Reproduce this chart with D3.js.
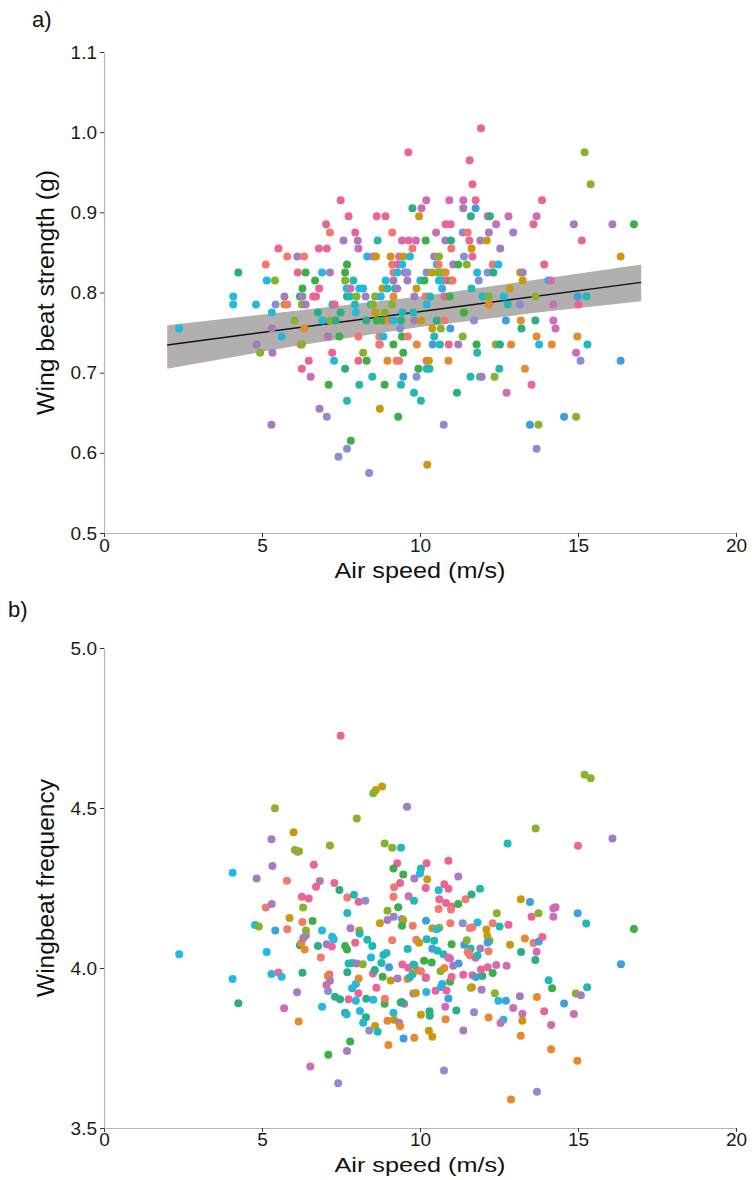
<!DOCTYPE html>
<html>
<head>
<meta charset="utf-8">
<script src="https://cdn.jsdelivr.net/npm/d3@7"></script>
<style>
  html, body { margin: 0; padding: 0; background: #fff; }
  svg { display: block; }
  text { font-family: "Liberation Sans", Arial, sans-serif; }
</style>
</head>
<body>
<div id="chart"></div>
<script>
// ---------------- data ----------------
const xTicks = [0, 5, 10, 15, 20];
const yTicksA = [0.5, 0.6, 0.7, 0.8, 0.9, 1.0, 1.1];
const yTicksB = [3.5, 4.0, 4.5, 5.0];
const panelLabels = ["a)", "b)"];
const xTitle = "Air speed (m/s)";
const yTitleA = "Wing beat strength (g)";
const yTitleB = "Wingbeat frequency";

// individuals (groups) and their colours
const groups = ["r","o","g","l","G","t","c","b","u","v","p","m","k"];
const groupColors = ["#EF7A6E","#E58A2E","#C99A0E","#86B32B","#3DAF48","#2BAE84","#22B9B3",
                     "#22B8E0","#3D9FE0","#8A8FD0","#A67CC0","#CC6DB6","#EB6496"];

// fitted regression (panel a) and its confidence band
const fitX = [2, 17];
const fitY = [0.7345, 0.8127];
const ciX = [2, 6, 10, 13.5, 17];
const ciLow = [0.705, 0.733, 0.757, 0.774, 0.789];
const ciHigh = [0.759, 0.777, 0.795, 0.815, 0.835];

// panel a: [air speed, wing beat strength, individual]
const pointsA = [
[7.49,0.915,"k"],[7.74,0.895,"k"],[8.63,0.895,"k"],[7.03,0.885,"k"],[7.15,0.875,"r"],[7.95,0.875,"k"],
[7.58,0.865,"p"],[8.03,0.865,"p"],[8.66,0.865,"c"],[5.52,0.855,"k"],[6.80,0.855,"k"],[7.05,0.855,"k"],[8.05,0.855,"m"],
[5.80,0.845,"r"],[6.12,0.845,"p"],[6.33,0.845,"r"],[8.33,0.845,"b"],[8.52,0.845,"m"],[8.61,0.845,"g"],
[5.12,0.835,"r"],[7.69,0.835,"G"],
[4.25,0.825,"t"],[6.13,0.825,"k"],[6.38,0.825,"G"],[6.90,0.825,"b"],[7.15,0.825,"p"],[7.63,0.825,"G"],
[5.15,0.815,"b"],[5.41,0.815,"l"],[6.68,0.815,"G"],[7.63,0.815,"l"],[7.89,0.815,"c"],
[6.28,0.805,"G"],[6.81,0.805,"k"],[7.68,0.805,"b"],[7.80,0.805,"m"],[8.08,0.805,"b"],[8.20,0.805,"b"],
[4.09,0.795,"b"],[5.71,0.795,"p"],[6.20,0.795,"t"],[6.28,0.795,"p"],[6.62,0.795,"k"],[6.71,0.795,"k"],[7.69,0.795,"t"],[7.78,0.795,"c"],[7.99,0.795,"l"],[8.28,0.795,"p"],[8.58,0.795,"l"],
[4.09,0.785,"b"],[4.81,0.785,"b"],[5.43,0.785,"v"],[5.71,0.785,"g"],[5.80,0.785,"r"],[6.26,0.785,"l"],[6.38,0.785,"p"],[7.23,0.785,"c"],[7.30,0.785,"k"],[7.94,0.785,"c"],[8.44,0.785,"b"],[8.50,0.785,"l"],
[5.31,0.775,"b"],[6.77,0.775,"t"],[7.49,0.775,"t"],[7.97,0.775,"b"],[8.59,0.775,"g"],
[6.03,0.765,"l"],[6.91,0.765,"b"],[7.15,0.765,"l"],[7.33,0.765,"t"],[8.30,0.765,"t"],[8.63,0.765,"G"],
[11.93,1.005,"k"],[9.63,0.975,"k"],[15.21,0.975,"l"],[11.57,0.965,"k"],[11.66,0.935,"k"],[15.40,0.935,"l"],
[10.20,0.915,"m"],[10.93,0.915,"m"],[11.37,0.915,"m"],[11.76,0.915,"k"],[13.86,0.915,"k"],
[9.76,0.905,"t"],[10.05,0.905,"m"],[11.37,0.905,"p"],[11.76,0.905,"u"],
[8.91,0.895,"k"],[9.97,0.895,"g"],[11.61,0.895,"t"],[12.14,0.895,"k"],[12.21,0.895,"t"],[12.80,0.895,"m"],[13.69,0.895,"m"],
[10.81,0.885,"k"],[10.97,0.885,"k"],[12.41,0.885,"m"],[13.59,0.885,"k"],[14.87,0.885,"p"],[16.09,0.885,"p"],[16.77,0.885,"G"],
[9.12,0.875,"r"],[10.51,0.875,"m"],[11.35,0.875,"v"],[11.51,0.875,"r"],[12.18,0.875,"p"],[12.95,0.875,"p"],
[9.43,0.865,"m"],[9.64,0.865,"k"],[9.87,0.865,"m"],[10.18,0.865,"G"],[10.80,0.865,"p"],[10.98,0.865,"t"],[11.56,0.865,"k"],[11.91,0.865,"p"],[12.11,0.865,"g"],[15.12,0.865,"k"],
[9.76,0.855,"r"],[10.99,0.855,"r"],[11.63,0.855,"g"],[12.54,0.855,"p"],
[9.07,0.845,"g"],[9.34,0.845,"k"],[9.47,0.845,"g"],[9.68,0.845,"b"],[10.45,0.845,"p"],[10.60,0.845,"l"],[11.39,0.845,"v"],[11.66,0.845,"k"],[16.35,0.845,"g"],
[9.12,0.835,"r"],[9.31,0.835,"k"],[9.44,0.835,"b"],[10.53,0.835,"b"],[10.59,0.835,"r"],[11.05,0.835,"p"],[11.21,0.835,"G"],[11.48,0.835,"l"],[12.30,0.835,"r"],[12.48,0.835,"b"],[13.93,0.835,"k"],
[9.16,0.825,"r"],[9.28,0.825,"b"],[9.52,0.825,"p"],[9.60,0.825,"v"],[10.21,0.825,"v"],[10.38,0.825,"g"],[10.58,0.825,"l"],[10.66,0.825,"l"],[10.74,0.825,"l"],[10.81,0.825,"o"],[11.81,0.825,"b"],[12.14,0.825,"v"],[12.32,0.825,"t"],[13.17,0.825,"g"],[13.25,0.825,"p"],
[8.91,0.815,"b"],[9.16,0.815,"p"],[9.60,0.815,"p"],[10.01,0.815,"b"],[10.14,0.815,"G"],[10.60,0.815,"b"],[10.69,0.815,"b"],[10.84,0.815,"k"],[10.98,0.815,"G"],[11.03,0.815,"r"],[11.86,0.815,"v"],[13.25,0.815,"g"],[14.06,0.815,"b"],[14.14,0.815,"m"],
[8.81,0.805,"g"],[8.97,0.805,"c"],[9.21,0.805,"c"],[9.28,0.805,"p"],[9.89,0.805,"g"],[10.70,0.805,"b"],[11.63,0.805,"c"],[12.84,0.805,"g"],
[8.76,0.795,"b"],[9.16,0.795,"o"],[9.82,0.795,"p"],[10.18,0.795,"r"],[10.32,0.795,"c"],[10.77,0.795,"k"],[10.94,0.795,"G"],[11.98,0.795,"c"],[12.13,0.795,"b"],[12.18,0.795,"l"],[12.65,0.795,"b"],[13.66,0.795,"l"],[14.99,0.795,"u"],[15.27,0.795,"c"],
[2.38,0.755,"b"],[5.31,0.755,"p"],[6.34,0.755,"o"],
[5.62,0.745,"b"],[7.07,0.745,"r"],[7.10,0.745,"p"],[7.45,0.745,"G"],[8.05,0.745,"r"],[8.71,0.745,"r"],
[4.83,0.735,"p"],[6.22,0.735,"r"],[6.26,0.735,"l"],[8.71,0.735,"r"],
[4.94,0.725,"l"],[5.33,0.725,"p"],[7.22,0.725,"k"],[8.20,0.725,"l"],
[6.48,0.715,"k"],[7.28,0.715,"b"],[8.05,0.715,"k"],[8.31,0.715,"G"],
[6.26,0.705,"k"],[7.63,0.705,"t"],[6.54,0.695,"m"],[8.49,0.695,"c"],[7.11,0.685,"G"],[8.08,0.685,"c"],
[7.69,0.665,"c"],[6.82,0.655,"p"],[7.05,0.645,"v"],[5.30,0.635,"p"],[7.81,0.615,"G"],[7.69,0.605,"v"],[7.42,0.595,"v"],[8.39,0.575,"v"],
[9.12,0.785,"l"],[10.21,0.785,"b"],[12.18,0.785,"o"],[12.78,0.785,"c"],[13.16,0.785,"v"],[14.22,0.785,"m"],[15.01,0.785,"k"],
[8.88,0.775,"l"],[9.44,0.775,"c"],[9.79,0.775,"c"],[11.39,0.775,"G"],
[8.81,0.765,"G"],[9.00,0.765,"o"],[9.16,0.765,"b"],[9.40,0.765,"t"],[9.82,0.765,"p"],[10.03,0.765,"g"],[10.53,0.765,"t"],[10.77,0.765,"r"],[11.71,0.765,"v"],[12.72,0.765,"u"],[13.19,0.765,"o"],[13.65,0.765,"t"],[14.22,0.765,"m"],
[9.37,0.755,"v"],[10.39,0.755,"g"],[10.66,0.755,"l"],[10.96,0.755,"u"],[13.21,0.755,"t"],[14.29,0.755,"m"],
[8.84,0.745,"b"],[9.43,0.745,"G"],[9.61,0.745,"r"],[10.45,0.745,"c"],[11.35,0.745,"l"],[13.69,0.745,"o"],[14.98,0.745,"o"],
[8.73,0.735,"r"],[9.16,0.735,"G"],[9.90,0.735,"o"],[10.40,0.735,"u"],[10.63,0.735,"c"],[10.91,0.735,"k"],[11.21,0.735,"p"],[11.79,0.735,"G"],[12.40,0.735,"l"],[12.53,0.735,"t"],[12.88,0.735,"o"],[13.77,0.735,"b"],[14.17,0.735,"o"],[15.30,0.735,"c"],
[9.47,0.725,"G"],[11.81,0.725,"c"],[14.94,0.725,"m"],
[8.97,0.715,"o"],[9.26,0.715,"r"],[9.34,0.715,"r"],[10.21,0.715,"k"],[10.28,0.715,"g"],[10.90,0.715,"o"],[15.08,0.715,"v"],[16.35,0.715,"u"],
[9.95,0.705,"G"],[10.21,0.705,"c"],[10.30,0.705,"c"],[12.51,0.705,"c"],[13.32,0.705,"o"],
[9.47,0.695,"u"],[9.89,0.695,"v"],[11.60,0.695,"c"],[11.90,0.695,"c"],[11.95,0.695,"p"],[12.36,0.695,"l"],
[8.88,0.685,"G"],[9.40,0.685,"c"],[13.53,0.685,"k"],
[9.81,0.675,"c"],[11.17,0.675,"t"],[12.74,0.675,"m"],[10.03,0.665,"c"],[8.73,0.655,"g"],
[9.31,0.645,"G"],[14.56,0.645,"u"],[14.94,0.645,"l"],[10.75,0.635,"v"],[13.48,0.635,"u"],[13.75,0.635,"l"],
[13.69,0.605,"v"],[10.23,0.585,"g"]
];

// panel b: [air speed, wingbeat frequency, individual]
const pointsB = [
[7.49,4.726,"k"],[8.60,4.556,"g"],[8.52,4.546,"l"],[5.41,4.499,"l"],[8.00,4.467,"l"],[6.00,4.424,"g"],[5.30,4.402,"p"],
[7.15,4.383,"l"],[6.04,4.369,"l"],[6.13,4.363,"k"],[6.17,4.365,"l"],[4.07,4.298,"b"],[5.33,4.319,"p"],[4.83,4.280,"p"],
[5.79,4.273,"r"],[6.64,4.323,"k"],[6.83,4.272,"p"],[6.71,4.254,"k"],[7.29,4.266,"k"],[7.45,4.244,"t"],[6.26,4.223,"k"],
[6.48,4.217,"k"],[7.70,4.220,"r"],[7.91,4.229,"c"],[8.06,4.207,"k"],[8.27,4.210,"v"],[5.12,4.189,"r"],[5.31,4.200,"p"],
[6.30,4.189,"l"],[7.70,4.172,"c"],[5.87,4.156,"g"],[6.28,4.144,"r"],[6.60,4.147,"G"],[4.78,4.134,"b"],[4.90,4.130,"l"],
[8.80,4.567,"g"],[9.59,4.504,"p"],[8.88,4.389,"l"],[9.12,4.376,"l"],[9.40,4.376,"c"],[12.77,4.389,"c"],[13.66,4.436,"l"],
[15.00,4.382,"k"],[16.09,4.405,"p"],[15.21,4.604,"l"],[15.40,4.593,"l"],[9.28,4.327,"k"],[9.16,4.311,"G"],[9.47,4.292,"G"],
[9.82,4.280,"p"],[10.03,4.311,"c"],[10.00,4.295,"b"],[10.21,4.327,"k"],[10.23,4.277,"g"],[9.37,4.266,"k"],[9.18,4.252,"r"],
[9.16,4.223,"r"],[9.64,4.224,"m"],[9.81,4.210,"c"],[10.18,4.250,"k"],[10.59,4.243,"b"],[10.77,4.262,"k"],[10.90,4.248,"k"],
[11.21,4.286,"p"],[10.90,4.335,"k"],[10.61,4.215,"k"],[10.82,4.203,"k"],[11.00,4.192,"k"],[10.98,4.183,"r"],[11.21,4.200,"G"],
[11.44,4.215,"r"],[11.63,4.230,"t"],[11.90,4.248,"c"],[10.59,4.184,"r"],[8.97,4.179,"l"],[9.31,4.190,"G"],[9.17,4.160,"p"],
[8.97,4.150,"p"],[8.73,4.140,"g"],[9.43,4.153,"b"],[9.47,4.149,"g"],[9.77,4.132,"r"],[9.43,4.132,"G"],[10.19,4.148,"u"],
[10.61,4.126,"l"],[10.39,4.124,"g"],[10.53,4.121,"b"],[10.96,4.140,"r"],[11.35,4.140,"v"],[11.82,4.142,"b"],[11.58,4.125,"r"],
[11.66,4.127,"r"],[12.10,4.120,"g"],[12.30,4.140,"r"],[12.52,4.130,"c"],[12.80,4.135,"k"],[12.43,4.171,"l"],[13.19,4.215,"g"],
[13.48,4.206,"u"],[13.53,4.160,"k"],[13.75,4.171,"l"],[14.22,4.187,"m"],[14.29,4.190,"m"],[14.22,4.160,"m"],[14.99,4.171,"u"],
[15.26,4.139,"c"],[16.77,4.122,"G"],
[2.38,4.043,"b"],[4.07,3.966,"b"],[4.25,3.890,"t"],[5.42,4.117,"u"],[5.80,4.121,"r"],[5.15,4.050,"b"],[5.30,3.981,"b"],
[5.52,3.986,"k"],[5.62,3.973,"b"],[5.70,3.874,"m"],[6.11,3.924,"p"],[6.16,3.833,"o"],[6.28,3.985,"t"],[6.20,4.071,"G"],
[6.25,4.079,"o"],[6.35,4.058,"o"],[6.31,4.094,"p"],[6.39,4.102,"p"],[6.39,4.117,"l"],[6.77,4.069,"t"],[6.86,4.033,"r"],
[6.90,4.117,"b"],[7.05,4.074,"p"],[7.22,4.098,"b"],[7.27,4.090,"b"],[7.21,4.067,"k"],[7.04,3.947,"k"],[7.13,3.980,"k"],
[7.08,3.975,"o"],[7.15,3.960,"p"],[7.09,3.928,"v"],[6.90,3.879,"b"],[6.53,3.692,"m"],[7.10,3.729,"G"],[7.31,3.910,"t"],
[7.47,3.902,"t"],[7.41,3.640,"v"],[7.69,3.741,"p"],[7.79,3.770,"G"],[7.63,3.860,"t"],[7.68,3.855,"b"],[7.63,4.069,"G"],
[7.69,4.058,"G"],[7.80,4.124,"p"],[7.95,4.079,"k"],[7.74,4.014,"c"],[7.86,4.016,"c"],[8.00,4.014,"p"],[8.19,4.012,"l"],
[7.70,3.987,"t"],[7.85,3.937,"b"],[7.97,3.950,"b"],[8.06,3.967,"o"],[8.05,3.921,"k"],[7.74,3.902,"k"],[7.97,3.898,"b"],
[8.10,3.866,"b"],[8.30,3.904,"t"],[8.29,3.846,"t"],[8.20,3.829,"b"],[8.39,3.805,"v"],[8.58,3.819,"g"],[8.66,3.801,"c"],
[8.52,3.901,"b"],[8.62,3.938,"k"],[8.45,4.033,"b"],[8.51,3.983,"k"],[8.57,3.994,"t"],[8.33,4.088,"c"],[8.49,4.069,"c"],
[8.08,4.117,"g"],[8.09,4.108,"c"],
[9.12,4.087,"r"],[8.84,4.041,"c"],[8.94,4.047,"c"],[8.78,4.016,"c"],[9.02,4.002,"u"],[8.82,3.973,"G"],[9.07,3.961,"g"],
[9.29,3.967,"p"],[9.60,3.966,"o"],[9.68,3.971,"c"],[9.77,3.981,"c"],[9.61,4.059,"c"],[9.79,4.011,"c"],[9.90,3.994,"g"],
[10.03,3.990,"r"],[10.18,3.969,"c"],[10.19,3.970,"k"],[9.88,4.088,"r"],[9.97,4.079,"g"],[10.21,4.090,"c"],[10.45,4.085,"c"],
[10.39,4.060,"u"],[10.55,4.054,"c"],[10.74,4.043,"c"],[10.13,4.023,"G"],[10.37,4.017,"G"],[9.44,4.011,"k"],[9.63,4.001,"k"],
[9.82,4.009,"c"],[9.79,3.920,"p"],[9.87,3.922,"g"],[10.20,3.925,"b"],[10.49,3.929,"k"],[10.66,3.941,"b"],[10.70,3.950,"b"],
[10.84,3.930,"k"],[10.95,3.957,"G"],[11.00,3.972,"k"],[10.65,3.990,"l"],[10.77,4.000,"o"],[10.89,4.033,"k"],[10.95,4.030,"m"],
[11.00,4.074,"G"],[11.22,4.014,"u"],[11.05,4.007,"p"],[11.40,4.073,"u"],[11.48,4.087,"l"],[11.60,4.061,"c"],[11.51,4.050,"r"],
[11.58,4.040,"r"],[11.91,4.061,"p"],[12.13,4.100,"g"],[12.20,4.085,"l"],[12.14,4.080,"u"],[12.17,4.052,"r"],[11.76,4.032,"k"],
[11.82,4.039,"c"],[11.37,3.979,"k"],[11.66,3.977,"k"],[11.77,3.972,"u"],[11.97,3.975,"t"],[11.93,3.995,"k"],[12.14,4.002,"k"],
[12.30,3.984,"G"],[12.41,4.009,"m"],[12.74,4.007,"m"],[11.61,3.938,"l"],[11.64,3.940,"g"],[11.95,3.932,"p"],[12.37,3.921,"l"],
[12.48,3.898,"b"],[12.72,3.898,"u"],[13.16,3.912,"p"],[13.70,3.909,"o"],[14.07,3.962,"c"],[14.18,3.937,"G"],[14.56,3.889,"u"],
[14.93,3.920,"l"],[15.09,3.915,"p"],[15.29,3.940,"c"],[16.36,4.012,"u"],[13.20,4.050,"t"],[13.65,4.025,"t"],[13.69,4.051,"m"],
[13.59,4.078,"r"],[13.76,4.083,"u"],[13.87,4.097,"k"],[13.32,4.092,"o"],[12.85,4.073,"g"],
[9.16,3.860,"b"],[8.97,3.835,"o"],[9.18,3.838,"g"],[9.34,3.829,"p"],[9.37,3.818,"o"],[9.48,3.780,"u"],[9.82,3.782,"o"],
[9.00,3.759,"o"],[9.39,3.892,"G"],[9.50,3.888,"p"],[8.88,3.888,"G"],[8.89,3.904,"r"],[9.42,3.894,"t"],[10.03,3.854,"g"],
[10.30,3.865,"t"],[10.31,3.851,"t"],[10.28,3.804,"g"],[10.39,3.785,"g"],[10.81,3.840,"o"],[10.80,3.879,"m"],[11.15,3.867,"t"],
[11.71,3.862,"v"],[12.17,3.845,"o"],[11.37,3.805,"p"],[12.64,3.838,"b"],[12.55,3.828,"m"],[12.95,3.875,"m"],[13.24,3.857,"m"],
[13.24,3.835,"g"],[13.19,3.788,"o"],[13.93,3.865,"k"],[14.15,3.822,"m"],[14.15,3.746,"o"],[14.87,3.856,"m"],[14.98,3.710,"o"],
[10.76,3.680,"v"],[13.70,3.613,"v"],[12.88,3.589,"o"],[10.90,3.905,"u"]
];

// ---------------- drawing ----------------
const W = 752, H = 1180;
const svg = d3.select("#chart").append("svg").attr("width", W).attr("height", H);
const color = d3.scaleOrdinal().domain(groups).range(groupColors);
const x = d3.scaleLinear().domain([0, 20]).range([104, 736]);
const yA = d3.scaleLinear().domain([0.5, 1.1]).range([533, 52]);
const yB = d3.scaleLinear().domain([3.5, 5.0]).range([1128, 648]);

function styleAxis(g) {
  g.select(".domain").attr("stroke", "#b5b5b5").attr("stroke-width", 1.2);
  g.selectAll(".tick line").attr("stroke", "#333").attr("stroke-width", 1);
  g.selectAll(".tick text").attr("fill", "#1a1a1a").style("font-size", "19px")
    .style("font-family", "'Liberation Sans', Arial, sans-serif");
}

function drawAxes(y, yTicks, bottom, xPad) {
  const g = svg.append("g");
  const ax = g.append("g").attr("transform", `translate(0,${bottom})`)
    .call(d3.axisBottom(x).tickValues(xTicks).tickSize(4).tickSizeOuter(0).tickPadding(xPad).tickFormat(d3.format("d")));
  styleAxis(ax);
  const ay = g.append("g").attr("transform", `translate(104,0)`)
    .call(d3.axisLeft(y).tickValues(yTicks).tickSize(4).tickSizeOuter(0).tickPadding(3).tickFormat(d3.format(".1f")));
  styleAxis(ay);
  return g;
}

// Panel a
const gA = drawAxes(yA, yTicksA, 533, 2);
const band = ciX.map((v, i) => ({x: v, lo: ciLow[i], hi: ciHigh[i]}));
gA.append("path").datum(band)
  .attr("d", d3.area().x(d => x(d.x)).y0(d => yA(d.lo)).y1(d => yA(d.hi)))
  .attr("fill", "#b3afaf");
gA.append("path").datum(fitX.map((v, i) => [v, fitY[i]]))
  .attr("d", d3.line().x(d => x(d[0])).y(d => yA(d[1])))
  .attr("stroke", "#111").attr("stroke-width", 1.4).attr("fill", "none");
gA.append("g").selectAll("circle").data(pointsA).join("circle")
  .attr("cx", d => x(d[0])).attr("cy", d => yA(d[1])).attr("r", 4)
  .attr("fill", d => color(d[2]));

// Panel b
const gB = drawAxes(yB, yTicksB, 1128, 1);
gB.append("g").selectAll("circle").data(pointsB).join("circle")
  .attr("cx", d => x(d[0])).attr("cy", d => yB(d[1])).attr("r", 4)
  .attr("fill", d => color(d[2]));

// titles and labels
function xTitleText(yPos, size, len) {
  svg.append("text").attr("x", 420).attr("y", yPos).attr("text-anchor", "middle")
    .attr("textLength", len).attr("lengthAdjust", "spacingAndGlyphs")
    .style("font-size", size + "px").attr("fill", "#111").text(xTitle);
}
xTitleText(578, 22, 171);
xTitleText(1172, 21, 171);

function yTitleText(cy, txt, len) {
  svg.append("text").attr("transform", `translate(54,${cy}) rotate(-90)`)
    .attr("text-anchor", "middle").attr("textLength", len).attr("lengthAdjust", "spacingAndGlyphs")
    .style("font-size", "23px").attr("fill", "#111").text(txt);
}
yTitleText(292.5, yTitleA, 245);
yTitleText(888, yTitleB, 218);

svg.append("text").attr("x", 32).attr("y", 27).style("font-size", "22px").attr("fill", "#111").text(panelLabels[0]);
svg.append("text").attr("x", 8).attr("y", 617).style("font-size", "22px").attr("fill", "#111").text(panelLabels[1]);
</script>
</body>
</html>
